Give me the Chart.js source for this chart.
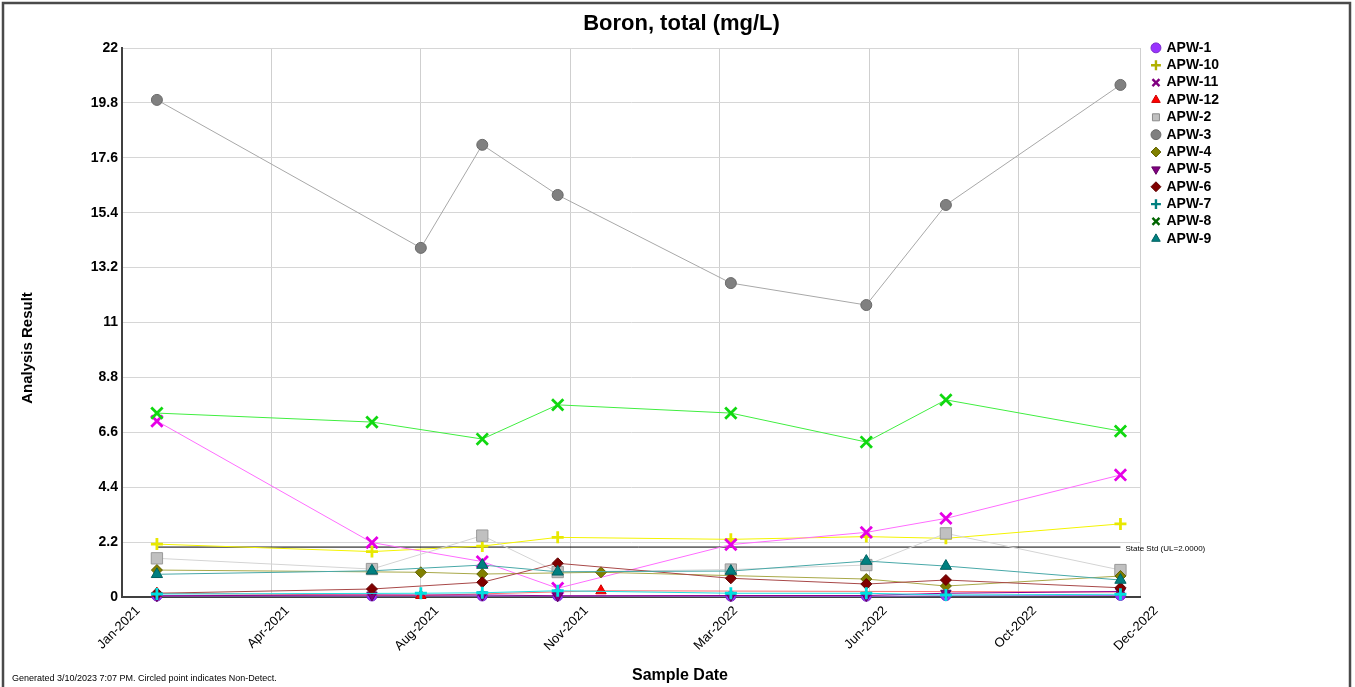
<!DOCTYPE html>
<html>
<head>
<meta charset="utf-8">
<title>Boron, total (mg/L)</title>
<script src="https://cdn.jsdelivr.net/npm/chart.js@4.4.1/dist/chart.umd.min.js"></script>
<style>
  html, body { margin: 0; padding: 0; background: #fff; }
</style>
</head>
<body>
<canvas id="chart-boron" width="1355" height="687"></canvas>
<script>
const FONT = "'Liberation Sans', Arial, sans-serif"

// Sample dates (shared by all wells, null = not sampled)
const sampleDates = ['2021-01-26', '2021-06-29', '2021-08-03', '2021-09-16', '2021-11-09',
  '2021-12-10', '2022-03-13', '2022-06-18', '2022-08-14', '2022-12-17']

const wells = ['APW-1', 'APW-10', 'APW-11', 'APW-12', 'APW-2', 'APW-3',
  'APW-4', 'APW-5', 'APW-6', 'APW-7', 'APW-8', 'APW-9']

const apw1 = [0.04, 0.04, null, 0.04, 0.04, null, 0.03, 0.03, 0.05, 0.06]
const apw10 = [2.12, 1.82, null, 2.04, 2.39, null, 2.31, 2.42, 2.35, 2.93]
const apw11 = [7.05, 2.18, null, 1.42, 0.35, null, 2.1, 2.59, 3.15, 4.89]
const apw12 = [0.15, null, 0.06, null, null, 0.25, null, null, null, 0.2]
const apw2 = [1.55, 1.12, null, 2.46, 1.0, null, 1.1, 1.28, 2.55, 1.08]
const apw3 = [19.92, null, 13.99, 18.12, 16.11, null, 12.58, 11.7, 15.71, 20.52]
const apw4 = [1.08, null, 0.99, 0.92, null, 0.99, null, 0.72, 0.44, 0.84]
const apw5 = [0.05, 0.08, null, 0.08, 0.05, null, 0.06, 0.06, 0.15, 0.22]
const apw6 = [0.15, 0.32, null, 0.59, 1.35, null, 0.75, 0.52, 0.68, 0.37]
const apw7 = [0.12, null, 0.15, 0.17, 0.25, null, 0.15, 0.15, 0.08, 0.11]
const apw8 = [7.37, 7.01, null, 6.33, 7.7, null, 7.37, 6.21, 7.9, 6.65]
const apw9 = [0.91, 1.05, null, 1.28, 1.01, null, 1.04, 1.44, 1.24, 0.68]
const wellValues = [apw1, apw10, apw11, apw12, apw2, apw3, apw4, apw5, apw6, apw7, apw8, apw9]

// State standard line
const stateStd = 2.0
const stdDates = ['2021-01-26', '2022-12-17']
const stdLabel = 'State Std (UL=2.0000)'

// Axis ticks
const yTicks = [0, 2.2, 4.4, 6.6, 8.8, 11, 13.2, 15.4, 17.6, 19.8, 22]
const xTickDates = ['2021-01-01', '2021-04-18', '2021-08-03', '2021-11-18',
  '2022-03-05', '2022-06-20', '2022-10-05', '2022-12-31']
const xTickLabels = ['Jan-2021', 'Apr-2021', 'Aug-2021', 'Nov-2021',
  'Mar-2022', 'Jun-2022', 'Oct-2022', 'Dec-2022']

const titleText = 'Boron, total (mg/L)'
const xTitle = 'Sample Date'
const yTitle = 'Analysis Result'
const footerText = 'Generated 3/10/2023 7:07 PM. Circled point indicates Non-Detect.'

// Styles per well
const pointStyles = ['circle', 'cross', 'crossRot', 'triangle', 'rect', 'circle',
  'rectRot', 'triangle', 'rectRot', 'cross', 'crossRot', 'triangle']
const pointRotations = [0, 0, 0, 0, 0, 0, 0, 180, 0, 0, 0, 0]
const pointRadii = [5, 6, 8, 6, 8, 5.5, 5.5, 6, 5.5, 6, 8, 6.5]
const lineColors = ['#a070e8', '#f4f400', '#ff6cff', '#ff7070', '#d4d4d4', '#a8a8a8',
  '#a8a848', '#900090', '#a84848', '#20e0e0', '#40ee40', '#48a8a8']
const markerFill = ['#9933ff', '#e8e800', '#e600e6', '#ff0000', '#c0c0c0', '#808080',
  '#808000', '#800080', '#800000', '#00e0e0', '#10d810', '#008080']
const markerEdge = ['#7a28cc', '#e8e800', '#e600e6', '#cc0000', '#999999', '#6a6a6a',
  '#606000', '#600060', '#600000', '#00e0e0', '#10d810', '#006060']
const legendFill = ['#9933ff', '#b0b000', '#800080', '#ff0000', '#c0c0c0', '#808080',
  '#808000', '#800080', '#800000', '#008080', '#006400', '#008080']
const legendEdge = ['#7a28cc', '#b0b000', '#800080', '#cc0000', '#8a8a8a', '#6a6a6a',
  '#606000', '#600060', '#600000', '#008080', '#006400', '#006060']

const DAY0 = Date.UTC(2021, 0, 1)
const toDay = (s) => (Date.parse(s) - DAY0) / 864e5
const isCross = (s) => s === 'cross' || s === 'crossRot'

const datasets = wells.map((name, i) => ({
  label: name,
  data: sampleDates.map((d, j) => ({ x: toDay(d), y: wellValues[i][j] })),
  borderColor: lineColors[i],
  borderWidth: 1,
  pointStyle: pointStyles[i],
  pointRotation: pointRotations[i],
  pointRadius: pointRadii[i],
  pointBackgroundColor: markerFill[i],
  pointBorderColor: markerEdge[i],
  pointBorderWidth: isCross(pointStyles[i]) ? 2.8 : 1,
  spanGaps: true,
  fill: false,
  tension: 0,
  clip: false,
  order: wells.length - i,
}))

datasets.push({
  label: 'State Std',
  data: stdDates.map((d) => ({ x: toDay(d), y: stateStd })),
  borderColor: '#000',
  borderWidth: 1,
  pointRadius: 0,
  fill: false,
  order: 100,
})

const chartText = {
  id: 'chartText',
  afterLayout(chart) {
    // legend sits a little right of the plot, level with the top gridline
    const lg = chart.legend
    const w = lg.width
    lg.left = chart.chartArea.right + 9.1
    lg.right = lg.left + w
    lg.top = 37.5
  },
  afterDraw(chart) {
    const c = chart.ctx
    const xs = chart.scales.x
    const ys = chart.scales.y
    c.save()
    c.strokeStyle = '#4a4a4a'
    c.lineWidth = 2.5
    c.strokeRect(3, 3, 1347, 720)

    c.fillStyle = '#000'
    c.textBaseline = 'middle'
    c.font = '8px ' + FONT
    c.textAlign = 'left'
    c.fillText(stdLabel, xs.getPixelForValue(toDay(stdDates[1])) + 5, ys.getPixelForValue(stateStd) + 2)

    c.font = '9px ' + FONT
    c.fillText(footerText, 12, 679)

    c.textAlign = 'center'
    c.font = 'bold 16px ' + FONT
    c.fillText(xTitle, 680, 676)
    c.font = 'bold 15px ' + FONT
    c.translate(28, 348)
    c.rotate(-Math.PI / 2)
    c.fillText(yTitle, 0, 0)
    c.restore()
  },
}

new Chart(document.getElementById('chart-boron'), {
  type: 'line',
  data: { datasets },
  plugins: [chartText],
  options: {
    responsive: false,
    animation: false,
    layout: { padding: { left: 8, right: 0, top: 0, bottom: 0 } },
    scales: {
      x: {
        type: 'linear',
        min: toDay(xTickDates[0]),
        max: toDay(xTickDates[xTickDates.length - 1]),
        afterBuildTicks: (scale) => {
          scale.ticks = xTickDates.map((d) => ({ value: toDay(d) }))
        },
        afterFit: (scale) => {
          scale.height = 90
          scale.paddingRight = 215
          scale.paddingLeft = 0
        },
        grid: { color: '#cfcfcf', drawTicks: false },
        border: { color: '#404040', width: 2 },
        ticks: {
          autoSkip: false,
          minRotation: 45,
          maxRotation: 45,
          labelOffset: 16,
          padding: 6,
          color: '#000',
          font: { family: FONT, size: 13 },
          callback: (v, i) => xTickLabels[i],
        },
      },
      y: {
        min: 0,
        max: 22,
        afterBuildTicks: (scale) => {
          scale.ticks = yTicks.map((v) => ({ value: v }))
        },
        afterFit: (scale) => {
          scale.width = 114
          scale.paddingTop = 48
        },
        grid: { color: '#d6d6d6', drawTicks: false },
        border: { color: '#404040', width: 2 },
        ticks: {
          padding: 4,
          color: '#000',
          font: { family: FONT, size: 14, weight: 'bold' },
          callback: (v) => String(v),
        },
      },
    },
    plugins: {
      title: {
        display: true,
        text: titleText,
        color: '#000',
        font: { family: FONT, size: 22, weight: 'bold' },
        padding: { top: 11, bottom: 10.6 },
      },
      legend: {
        display: true,
        position: 'right',
        align: 'start',
        labels: {
          usePointStyle: true,
          boxWidth: 7,
          boxHeight: 7,
          padding: 3.36,
          color: '#000',
          font: { family: FONT, size: 14, weight: 'bold' },
          generateLabels: () => wells.map((name, i) => ({
            text: name,
            datasetIndex: i,
            pointStyle: pointStyles[i],
            rotation: pointRotations[i],
            fillStyle: legendFill[i],
            strokeStyle: legendEdge[i],
            lineWidth: isCross(pointStyles[i]) ? 2.4 : 1,
            fontColor: '#000',
            hidden: false,
          })),
        },
      },
      tooltip: { enabled: false },
    },
  },
})
</script>
</body>
</html>
